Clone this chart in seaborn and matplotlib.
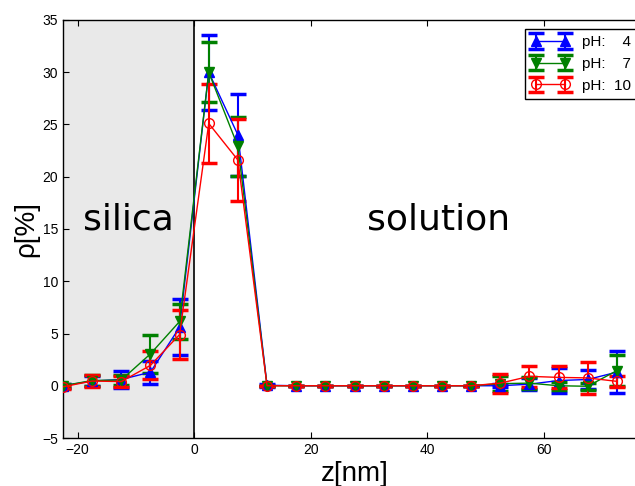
import matplotlib
matplotlib.use("Agg")
import matplotlib.pyplot as plt
import seaborn as sns
import numpy as np

# ---- data ----
z = [-22.5, -17.5, -12.5, -7.5, -2.5, 2.5, 7.5, 12.5, 17.5, 22.5,
     27.5, 32.5, 37.5, 42.5, 47.5, 52.5, 57.5, 62.5, 67.5, 72.5]

rho_ph4 = [0.0, 0.45, 0.6, 1.3, 5.6, 30.0, 24.0, 0.05, 0, 0,
           0, 0, 0, 0, 0, 0.0, 0.15, 0.5, 0.6, 1.3]
err_ph4 = [0.2, 0.5, 0.8, 1.1, 2.7, 3.6, 3.9, 0.15, 0, 0,
           0, 0, 0, 0, 0, 0.15, 0.6, 1.2, 0.9, 2.0]

rho_ph7 = [0.0, 0.5, 0.55, 3.05, 6.15, 30.0, 22.9, 0, 0, 0,
           0, 0, 0, 0, 0, 0.2, 0.25, 0.0, -0.05, 1.45]
err_ph7 = [0.2, 0.5, 0.5, 1.85, 1.65, 2.85, 2.8, 0, 0, 0,
           0, 0, 0, 0, 0, 0.7, 0.55, 0.4, 0.35, 1.45]

rho_ph10 = [-0.1, 0.45, 0.4, 1.95, 4.9, 25.1, 21.6, 0, 0, 0,
            0, 0, 0, 0, 0, 0.25, 0.9, 0.8, 0.75, 0.42]
err_ph10 = [0.2, 0.55, 0.5, 1.35, 2.35, 3.8, 3.95, 0, 0, 0,
            0, 0, 0, 0, 0, 0.9, 1.0, 1.05, 1.5, 0.55]

labels = ["pH:    4", "pH:    7", "pH:  10"]

# ---- style ----
sns.set_theme(style="ticks")
plt.rcParams["font.family"] = ["Liberation Sans", "DejaVu Sans"]
plt.rcParams["text.color"] = "black"
plt.rcParams["axes.labelcolor"] = "black"
plt.rcParams["xtick.color"] = "black"
plt.rcParams["ytick.color"] = "black"

fig = plt.figure(figsize=(6.35, 4.86), dpi=100)
ax = fig.add_axes([63 / 635, 48 / 486, (646 - 63) / 635, (466 - 48) / 486])

ax.axvspan(-22.5, 0, color="#e9e9e9", zorder=0, lw=0)
ax.axvline(0, color="black", lw=1.2, zorder=1)

series = [
    (rho_ph4, err_ph4, "#0000ff", "^", "#0000ff"),
    (rho_ph7, err_ph7, "#008000", "v", "#008000"),
    (rho_ph10, err_ph10, "#ff0000", "o", "none"),
]
for (vals, errs, col, mk, fc), lab in zip(series, labels):
    ax.errorbar(z, vals, yerr=errs, color=col, marker=mk, markersize=7,
                markerfacecolor=fc, markeredgecolor=col, lw=1.0,
                elinewidth=1.5, capsize=6, capthick=2.5, label=lab, zorder=3)

ax.set_xlim(-22.5, 77.5)
ax.set_ylim(-5, 35)
ax.set_xticks([-20, 0, 20, 40, 60])
ax.set_yticks(np.arange(-5, 36, 5))
ax.tick_params(direction="in", top=True, right=True, length=4, width=0.8,
               labelsize=10, colors="black")
for s in ax.spines.values():
    s.set_color("black")
    s.set_linewidth(1.0)

ax.set_xlabel("z[nm]", fontsize=20, labelpad=3, color="black")
ax.set_ylabel("ρ[%]", fontsize=20, labelpad=2, color="black")

ax.text(-11.25, 15, "silica", fontsize=26, ha="center", va="baseline",
        family="DejaVu Sans", color="black")
ax.text(42, 15, "solution", fontsize=26, ha="center", va="baseline",
        family="DejaVu Sans", color="black")

leg = ax.legend(loc="upper right", numpoints=2, fontsize=11, fancybox=False,
                framealpha=1, edgecolor="black", borderaxespad=0.6,
                handlelength=2.5)
leg.get_frame().set_linewidth(1.0)
for t in leg.get_texts():
    t.set_color("black")

fig.savefig("out.png", dpi=100)
